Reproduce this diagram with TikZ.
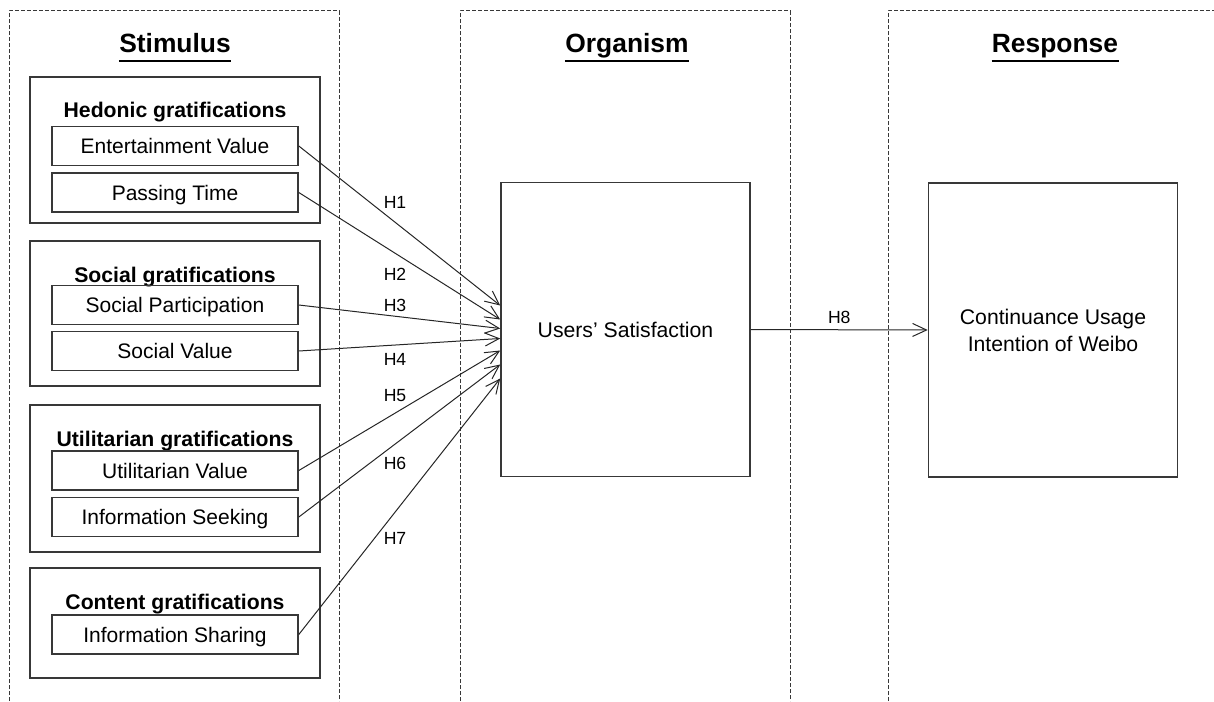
\documentclass[tikz,border=0pt]{standalone}
\usepackage{fontspec}
\setmainfont{Liberation Sans}
\usetikzlibrary{positioning, calc, arrows.meta}
\colorlet{linegray}{black!78}
\tikzset{
  >={Straight Barb[length=7pt,width=6.5pt]},
  column/.style={draw=linegray, line width=0.5pt, dash pattern=on 1.8pt off 1.2pt},
  coltitle/.style={font=\fontsize{13.2}{16}\selectfont\bfseries, inner sep=0pt, anchor=base},
  group/.style={draw=linegray, line width=0.8pt, minimum width=145pt, inner sep=0pt},
  grptitle/.style={font=\fontsize{10.6}{13}\selectfont\bfseries, inner sep=0pt, anchor=base},
  item/.style={draw=linegray, line width=0.8pt, minimum width=123pt, minimum height=19.5pt,
    text height=7.5pt, text depth=0pt, inner sep=0pt, font=\fontsize{10.5}{13}\selectfont},
  construct/.style={draw=linegray, line width=0.8pt, minimum width=124.5pt, minimum height=147pt,
    align=center, font=\fontsize{10.6}{13.5}\selectfont},
  hyp/.style={font=\fontsize{8.8}{10}\selectfont, inner sep=0pt},
  link/.style={->, draw=black!85, line width=0.5pt},
}

\begin{document}
\begin{tikzpicture}[x=0.5pt, y=-0.5pt]
  \useasboundingbox (0,0) rectangle (1214,701);

  % Columns
  \draw[column] (9,701) |- (339,11) -- (339,701);
  \draw[column] (460,701) |- (790,11) -- (790,701);
  \draw[column] (888,701) |- (1214,11);

  % Column titles
  \foreach \name/\x/\txt in {stim/175/Stimulus, org/627/Organism, resp/1055/Response}{
    \node[coltitle] (\name) at (\x,53) {\txt};
    \draw[line width=0.9pt] ($(\name.base west)+(0,8)$) -- ($(\name.base east)+(0,8)$);
  }

  % Gratification groups
  \node[group, minimum height=73pt] (hed) at (175,150) {};
  \node[group, minimum height=72.5pt] (soc) at (175,313.5) {};
  \node[group, minimum height=73.5pt] (uti) at (175,478.5) {};
  \node[group, minimum height=55pt] (con) at (175,623) {};
  \node[grptitle] (hedt) at (175,118) {Hedonic gratifications};
  \node[grptitle] (soct) at (175,282) {Social gratifications};
  \node[grptitle] (utit) at (175,446) {Utilitarian gratifications};
  \node[grptitle] (cont) at (175,609) {Content gratifications};

  % Items
  \foreach \name/\y/\txt in {ev/146/Entertainment Value, pt/192.5/Passing Time,
      sp/305/Social Participation, sv/351/Social Value, uv/470.5/Utilitarian Value,
      is/517/Information Seeking, ish/634.5/Information Sharing}
    \node[item] (\name) at (175,\y) {\txt};

  % Organism and response
  \node[construct] (sat) at (625.5,329.5) {Users’ Satisfaction};
  \node[construct] (ciu) at (1053,330) {Continuance Usage\\Intention of Weibo};

  % Hypotheses
  \foreach \src/\dy/\lab/\ly in {ev/-24/1/202, pt/-10/2/274, sp/-1/3/305, sv/9/4/359,
      uv/21/5/396, is/35/6/463, ish/49/7/538}{
    \draw[link] (\src.east) -- ($(sat.west)+(0,\dy)$);
    \node[hyp] (h\lab) at (395,\ly) {H\lab};
  }
  \draw[link] (sat.east) -- (ciu.west) node[hyp, midway, above=2.7pt] (h8) {H8};
\end{tikzpicture}
\end{document}
